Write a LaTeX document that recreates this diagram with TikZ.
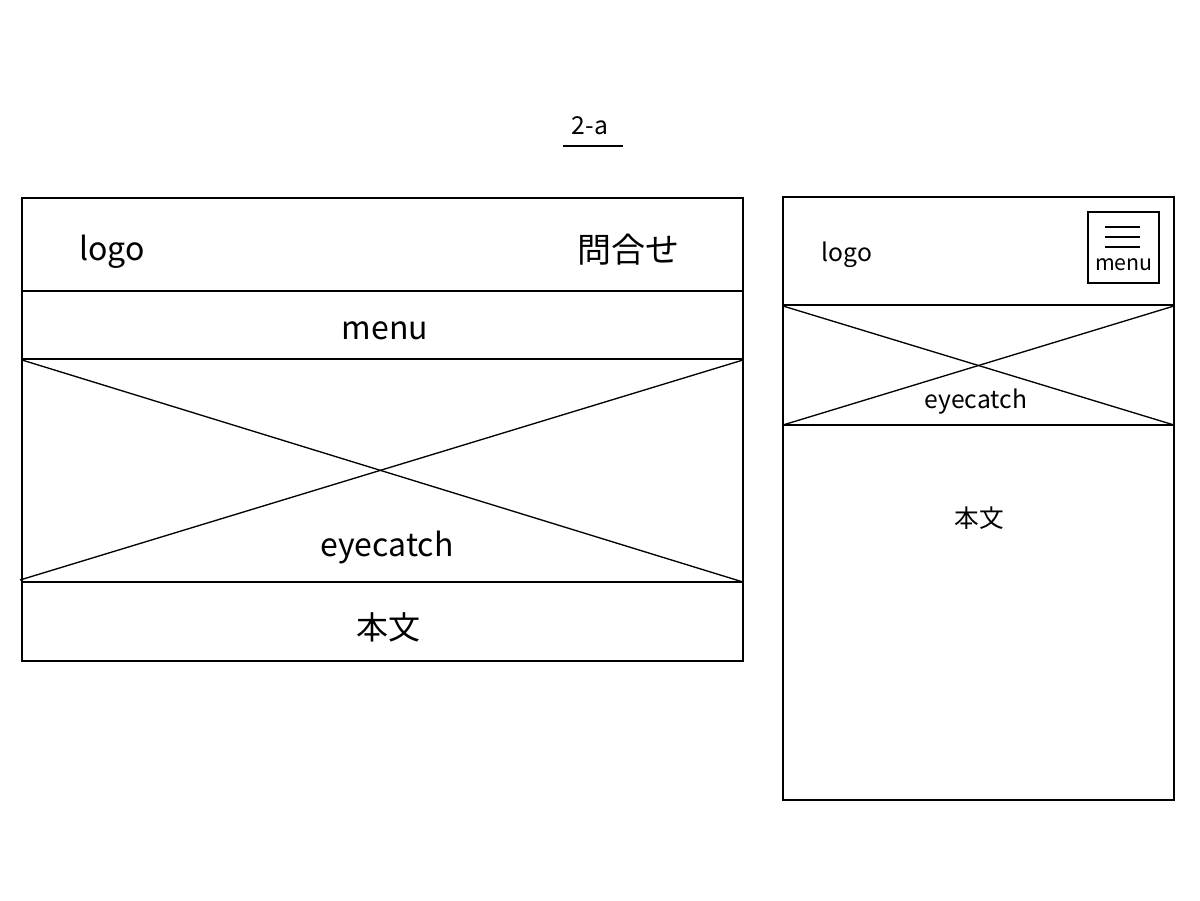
\documentclass[tikz,border=0pt]{standalone}
\usepackage{fontspec}
\setmainfont{Noto Sans CJK JP}
\usepackage{tikz}

\begin{document}
\begin{tikzpicture}[x=0.75pt,y=-0.75pt]
\tikzset{frame/.style={draw,line width=1.2pt}}
\tikzset{pclabel/.style={anchor=base,font=\fontsize{24}{28}\selectfont}}
\tikzset{splabel/.style={anchor=base,font=\fontsize{18.5}{22}\selectfont}}

\useasboundingbox (0,0) rectangle (1200,900);

\node[anchor=base,font=\fontsize{18.5}{22}\selectfont] (title) at (590,134) {2-a};
\draw[line width=1.2pt] (563,146) -- (623,146);

% pc
\draw[frame] (22,198) rectangle (743,661);
\draw[frame] (22,291) -- (743,291);
\draw[frame] (22,359) -- (743,359);
\draw[frame] (22,582) -- (743,582);
\draw[line width=1pt] (22,360) -- (743,582);
\draw[line width=1pt] (20,580) -- (743,360);
\node[pclabel] (pclogo) at (112,260) {logo};
\node[pclabel,font=\fontsize{25.5}{30}\selectfont] (pccontact) at (628,262) {問合せ};
\node[pclabel] (pcmenu) at (385,339) {menu};
\node[pclabel] (pceye) at (387,556) {eyecatch};
\node[pclabel] (pcbody) at (388,639) {本文};

% sp
\draw[frame] (783,197) rectangle (1174,800);
\draw[frame] (783,305) -- (1174,305);
\draw[frame] (783,425) -- (1174,425);
\draw[line width=1pt] (783,306) -- (1174,425);
\draw[line width=1pt] (783,425) -- (1174,306);
\node[splabel] (splogo) at (847,261) {logo};
\draw[frame] (1088,212) rectangle (1159,283);
\foreach \y in {227,237,247}
  \draw[line width=1pt] (1105,\y) -- (1140,\y);
\node[anchor=base,font=\fontsize{16}{19}\selectfont] (spmenu) at (1124,270) {menu};
\node[splabel] (speye) at (976,408) {eyecatch};
\node[splabel] (spbody) at (979,527) {本文};

\end{tikzpicture}
\end{document}
